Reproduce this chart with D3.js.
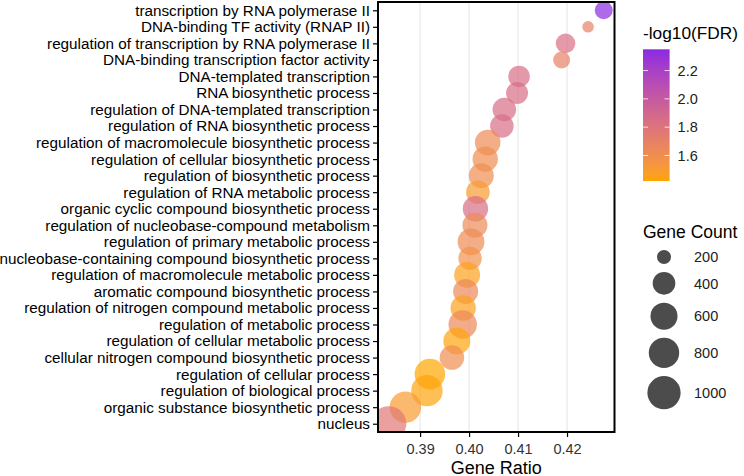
<!DOCTYPE html>
<html>
<head>
<meta charset="utf-8">
<script src="https://cdn.jsdelivr.net/npm/d3@7"></script>
<style>
  body { margin: 0; background: #fff; }
  svg { display: block; font-family: "Liberation Sans", Arial, sans-serif; }
</style>
</head>
<body>
<svg id="chart" width="744" height="476"></svg>
<script>
// GO terms, top to bottom
const terms = [
  "transcription by RNA polymerase II",
  "DNA-binding TF activity (RNAP II)",
  "regulation of transcription by RNA polymerase II",
  "DNA-binding transcription factor activity",
  "DNA-templated transcription",
  "RNA biosynthetic process",
  "regulation of DNA-templated transcription",
  "regulation of RNA biosynthetic process",
  "regulation of macromolecule biosynthetic process",
  "regulation of cellular biosynthetic process",
  "regulation of biosynthetic process",
  "regulation of RNA metabolic process",
  "organic cyclic compound biosynthetic process",
  "regulation of nucleobase-compound metabolism",
  "regulation of primary metabolic process",
  "nucleobase-containing compound biosynthetic process",
  "regulation of macromolecule metabolic process",
  "aromatic compound biosynthetic process",
  "regulation of nitrogen compound metabolic process",
  "regulation of metabolic process",
  "regulation of cellular metabolic process",
  "cellular nitrogen compound biosynthetic process",
  "regulation of cellular process",
  "regulation of biological process",
  "organic substance biosynthetic process",
  "nucleus"
];
const geneRatio = [
  0.4275, 0.4243, 0.4197, 0.4189, 0.4102, 0.4098, 0.4072, 0.4067,
  0.4038, 0.4033, 0.4025, 0.4018, 0.4013, 0.4012, 0.4004, 0.4002,
  0.3996, 0.3993, 0.3988, 0.3987, 0.3975, 0.3965, 0.3920, 0.3914,
  0.3870, 0.3836
];
const geneCount = [
  260, 190, 300, 240, 362, 376, 438, 432,
  528, 520, 499, 438, 518, 499, 590, 430,
  547, 499, 518, 677, 600, 481, 812, 866,
  866, 1150
];
const log10FDR = [
  2.35, 1.70, 1.84, 1.70, 1.85, 1.85, 1.85, 1.85,
  1.62, 1.60, 1.60, 1.50, 1.85, 1.63, 1.62, 1.58,
  1.45, 1.64, 1.45, 1.64, 1.43, 1.60, 1.42, 1.43,
  1.50, 1.77
];
const xTicks = [0.39, 0.40, 0.41, 0.42];
const colorTicks = [1.6, 1.8, 2.0, 2.2];
const sizeBreaks = [200, 400, 600, 800, 1000];

const data = terms.map((t, i) => ({
  term: t, ratio: geneRatio[i], count: geneCount[i], fdr: log10FDR[i]
}));

const svg = d3.select("#chart");
const panel = { left: 378, right: 614.5, top: 2, bottom: 432 };

// scales
const xExt = d3.extent(geneRatio);
const xPad = (xExt[1] - xExt[0]) * 0.05;
const x = d3.scaleLinear()
  .domain([xExt[0] - xPad, xExt[1] + xPad])
  .range([panel.left, panel.right]);

const y = d3.scalePoint()
  .domain(terms)
  .range([panel.top, panel.bottom])
  .padding(0.5);

const color = d3.scaleLinear()
  .domain(d3.extent(log10FDR))
  .range(["#ffa500", "#8a2be2"])
  .interpolate(d3.interpolateLab);

// ggplot-style area scale: r grows with sqrt of the rescaled count
const cExt = d3.extent(geneCount);
const rMin = 5.8, rMax = 17.6;
function radius(v) {
  const t = Math.max(0, (v - cExt[0]) / (cExt[1] - cExt[0]));
  return rMin + (rMax - rMin) * Math.sqrt(t);
}

// grid
svg.append("g")
  .selectAll("line")
  .data(xTicks)
  .join("line")
  .attr("x1", (d) => x(d))
  .attr("x2", (d) => x(d))
  .attr("y1", panel.top)
  .attr("y2", panel.bottom)
  .attr("stroke", "#e4e4e4")
  .attr("stroke-width", 1);

// points
svg.append("clipPath")
  .attr("id", "clip")
  .append("rect")
  .attr("x", panel.left)
  .attr("y", panel.top)
  .attr("width", panel.right - panel.left)
  .attr("height", panel.bottom - panel.top);

svg.append("g")
  .attr("clip-path", "url(#clip)")
  .selectAll("circle")
  .data(data)
  .join("circle")
  .attr("cx", (d) => x(d.ratio))
  .attr("cy", (d) => y(d.term))
  .attr("r", (d) => radius(d.count))
  .attr("fill", (d) => color(d.fdr))
  .attr("fill-opacity", 0.7);

// axes
const yAxis = svg.append("g")
  .attr("transform", `translate(${panel.left},0)`)
  .call(d3.axisLeft(y).tickSize(5).tickPadding(3));
yAxis.select(".domain").remove();
yAxis.selectAll(".tick line").attr("stroke", "#000").attr("stroke-width", 1.2);
yAxis.selectAll(".tick text")
  .attr("fill", "#000")
  .style("font-size", "15.25px")
  .style("font-family", "'Liberation Sans', Arial, sans-serif");

const xAxis = svg.append("g")
  .attr("transform", `translate(0,${panel.bottom})`)
  .call(d3.axisBottom(x).tickValues(xTicks).tickFormat(d3.format(".2f")).tickSize(5).tickPadding(7));
xAxis.select(".domain").remove();
xAxis.selectAll(".tick line").attr("stroke", "#000").attr("stroke-width", 1.2);
xAxis.selectAll(".tick text")
  .attr("fill", "#333")
  .style("font-size", "14.5px")
  .style("font-family", "'Liberation Sans', Arial, sans-serif");

// panel border
svg.append("rect")
  .attr("x", panel.left)
  .attr("y", panel.top)
  .attr("width", panel.right - panel.left)
  .attr("height", panel.bottom - panel.top)
  .attr("fill", "none")
  .attr("stroke", "#000")
  .attr("stroke-width", 2);

svg.append("text")
  .attr("x", (panel.left + panel.right) / 2)
  .attr("y", 473.5)
  .attr("text-anchor", "middle")
  .style("font-size", "18px")
  .attr("fill", "#000")
  .text("Gene Ratio");

// colour legend
const legX = 643;
svg.append("text")
  .attr("x", legX)
  .attr("y", 39)
  .style("font-size", "17.3px")
  .text("-log10(FDR)");

const barTop = 49.3, barBottom = 181, barW = 26.6;
const barY = d3.scaleLinear().domain(color.domain()).range([barBottom, barTop]);

const grad = svg.append("defs")
  .append("linearGradient")
  .attr("id", "fdrGrad")
  .attr("x1", 0).attr("y1", 1).attr("x2", 0).attr("y2", 0);
d3.range(0, 1.0001, 0.05).forEach((t) => {
  const v = color.domain()[0] + t * (color.domain()[1] - color.domain()[0]);
  grad.append("stop").attr("offset", t).attr("stop-color", color(v));
});

svg.append("rect")
  .attr("x", legX)
  .attr("y", barTop)
  .attr("width", barW)
  .attr("height", barBottom - barTop)
  .attr("fill", "url(#fdrGrad)");

const cTicks = svg.append("g").selectAll("g").data(colorTicks).join("g");
cTicks.append("line")
  .attr("x1", legX).attr("x2", legX + 5)
  .attr("y1", (d) => barY(d)).attr("y2", (d) => barY(d))
  .attr("stroke", "#fff").attr("stroke-opacity", 0.8);
cTicks.append("line")
  .attr("x1", legX + barW - 5).attr("x2", legX + barW)
  .attr("y1", (d) => barY(d)).attr("y2", (d) => barY(d))
  .attr("stroke", "#fff").attr("stroke-opacity", 0.8);
cTicks.append("text")
  .attr("x", legX + barW + 8)
  .attr("y", (d) => barY(d))
  .attr("dy", "0.36em")
  .style("font-size", "14.5px")
  .attr("fill", "#222")
  .text((d) => d3.format(".1f")(d));

// size legend
svg.append("text")
  .attr("x", legX)
  .attr("y", 238)
  .style("font-size", "17.5px")
  .text("Gene Count");

let cy = 257;
const sizeKeys = sizeBreaks.map((v, i) => {
  if (i > 0) cy += radius(sizeBreaks[i - 1]) + radius(v) + 8;
  return { v: v, cy: cy };
});
const sKeys = svg.append("g").selectAll("g").data(sizeKeys).join("g");
sKeys.append("circle")
  .attr("cx", 664)
  .attr("cy", (d) => d.cy)
  .attr("r", (d) => radius(d.v))
  .attr("fill", "#000")
  .attr("fill-opacity", 0.7);
sKeys.append("text")
  .attr("x", 694)
  .attr("y", (d) => d.cy)
  .attr("dy", "0.36em")
  .style("font-size", "14.5px")
  .attr("fill", "#222")
  .text((d) => d.v);
</script>
</body>
</html>
